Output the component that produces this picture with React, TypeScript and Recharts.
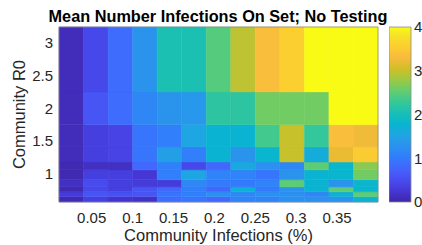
import React from 'react';
import { ScatterChart, Scatter, XAxis, YAxis, ReferenceArea, Label, BarChart, Bar } from 'recharts';

// cell edges (community infections %, community R0)
const INFECTION_EDGES = [0.01, 0.04, 0.07, 0.1, 0.13, 0.16, 0.19, 0.22, 0.25, 0.28, 0.31, 0.34, 0.37, 0.4];
const R0_EDGES = [0.57, 0.65, 0.725, 0.8, 0.91, 1.06, 1.18, 1.41, 1.75, 2.25, 3.24];

// mean number of infections on set, bottom row (lowest R0) first
const MEAN_INFECTIONS = [
  [0.05, 0.35, 0.2, 0.15, 0.85, 0.95, 0.8, 1.1, 1.1, 1.25, 1.25, 1.3, 1.75],
  [0.3, 0.6, 0.55, 0.6, 0.95, 1.05, 1.25, 1.15, 1.25, 1.25, 1.15, 1.7, 2.5],
  [0.05, 0.45, 0.35, 0.6, 0.8, 1.05, 0.8, 1.7, 1.0, 1.3, 1.75, 2.5, 1.8],
  [0.15, 0.5, 0.35, 0.3, 0.3, 1.15, 1.0, 1.0, 1.1, 2.5, 1.75, 1.3, 1.8],
  [0.05, 0.35, 0.35, 0.25, 1.05, 1.55, 1.1, 1.1, 0.95, 1.3, 1.75, 1.8, 2.6],
  [0.05, 0.15, 0.15, 0.8, 1.05, 0.45, 0.8, 1.6, 1.25, 1.15, 2.5, 1.8, 2.7],
  [0.1, 0.35, 0.4, 0.95, 1.45, 1.05, 1.75, 1.3, 1.8, 3.0, 1.65, 3.2, 3.5],
  [0.1, 0.35, 0.4, 0.95, 1.05, 1.55, 1.75, 1.75, 2.35, 3.0, 2.25, 3.35, 3.25],
  [0.1, 0.6, 0.85, 1.15, 1.3, 1.35, 2.2, 2.2, 2.6, 2.6, 2.6, 4, 4],
  [0.1, 0.45, 0.85, 1.3, 2.05, 2.05, 2.45, 2.95, 3.35, 3.55, 4, 4, 4],
];

const X_TICKS = [0.05, 0.1, 0.15, 0.2, 0.25, 0.3, 0.35];
const Y_TICKS = [1, 1.5, 2, 2.5, 3];
const CBAR_TICKS = [0, 1, 2, 3, 4];
const CBAR_MAX = 4;

// parula colormap stops
const PARULA = [
  [0.2422, 0.1504, 0.6603],
  [0.2706, 0.2147, 0.8364],
  [0.2813, 0.3006, 0.9414],
  [0.2699, 0.3892, 0.9906],
  [0.1963, 0.4847, 0.9892],
  [0.1687, 0.5703, 0.9359],
  [0.1248, 0.6459, 0.8883],
  [0.0297, 0.7082, 0.8163],
  [0.0964, 0.75, 0.712],
  [0.2161, 0.7843, 0.5923],
  [0.3909, 0.8029, 0.4354],
  [0.6174, 0.7876, 0.2612],
  [0.8203, 0.7498, 0.1535],
  [0.9728, 0.7298, 0.2394],
  [0.9892, 0.8136, 0.1885],
  [0.961, 0.889, 0.1537],
  [0.9769, 0.9839, 0.0805],
];
const PARULA_POS = [0, 4, 8, 12, 16, 20, 24, 28, 32, 36, 40, 44, 48, 52, 56, 60, 63].map((i) => i / 63);

const toHex = (c: number[]) =>
  '#' + c.map((v) => Math.round(Math.max(0, Math.min(1, v)) * 255).toString(16).padStart(2, '0')).join('');

const parula = (t: number) => {
  const tt = Math.max(0, Math.min(1, t));
  for (let i = 1; i < PARULA_POS.length; i++) {
    if (tt <= PARULA_POS[i]) {
      const f = (tt - PARULA_POS[i - 1]) / (PARULA_POS[i] - PARULA_POS[i - 1]);
      const a = PARULA[i - 1];
      const b = PARULA[i];
      return toHex(a.map((v, k) => v + (b[k] - v) * f));
    }
  }
  return toHex(PARULA[PARULA.length - 1]);
};

const cells = MEAN_INFECTIONS.flatMap((row, r) =>
  row.map((value, c) => ({
    x1: INFECTION_EDGES[c],
    x2: INFECTION_EDGES[c + 1],
    y1: R0_EDGES[r],
    y2: R0_EDGES[r + 1],
    x: (INFECTION_EDGES[c] + INFECTION_EDGES[c + 1]) / 2,
    y: (R0_EDGES[r] + R0_EDGES[r + 1]) / 2,
    value,
  }))
);

const FONT = '"Liberation Sans", Arial, Helvetica, sans-serif';
const TEXT = '#262626';

export default function App() {
  const xMin = INFECTION_EDGES[0];
  const xMax = INFECTION_EDGES[INFECTION_EDGES.length - 1];
  const yMin = R0_EDGES[0];
  const yMax = R0_EDGES[R0_EDGES.length - 1];

  return (
    <div style={{ position: 'absolute', left: 0, top: 0, width: 422, height: 245, overflow: 'hidden', background: '#fff', fontFamily: FONT }}>
      <div
        style={{
          position: 'absolute',
          left: 18,
          width: 400,
          top: 8,
          textAlign: 'center',
          fontSize: 16.3,
          lineHeight: '16px',
          fontWeight: 'bold',
          color: '#000',
          whiteSpace: 'nowrap',
        }}
      >
        Mean Number Infections On Set; No Testing
      </div>

      <div style={{ position: 'absolute', left: 0, top: 0 }}>
        <ScatterChart width={422} height={245} margin={{ top: 27, right: 44, left: 0, bottom: 0 }}>
          <XAxis
            type="number"
            dataKey="x"
            domain={[xMin, xMax]}
            ticks={X_TICKS}
            allowDataOverflow
            height={43}
            axisLine={false}
            tickLine={false}
            tickSize={0}
            tickMargin={10}
            tick={{ fill: TEXT, fontSize: 15 }}
          >
            <Label value="Community Infections (%)" position="insideBottom" offset={4} fill={TEXT} fontSize={16.5} />
          </XAxis>
          <YAxis
            type="number"
            dataKey="y"
            domain={[yMin, yMax]}
            ticks={Y_TICKS}
            allowDataOverflow
            width={59}
            axisLine={false}
            tickLine={false}
            tickSize={0}
            tickMargin={6}
            tick={{ fill: TEXT, fontSize: 15 }}
          >
            <Label
              value="Community R0"
              angle={-90}
              position="insideLeft"
              offset={19}
              fill={TEXT}
              fontSize={16.5}
              style={{ textAnchor: 'middle' }}
            />
          </YAxis>
          {cells.map((cell, i) => (
            <ReferenceArea
              key={i}
              x1={cell.x1}
              x2={cell.x2}
              y1={cell.y1}
              y2={cell.y2}
              fill={parula(cell.value / CBAR_MAX)}
              fillOpacity={1}
              stroke={parula(cell.value / CBAR_MAX)}
              strokeWidth={0.5}
            />
          ))}
          <ReferenceArea x1={xMin} x2={xMax} y1={yMin} y2={yMax} fill="none" stroke="#8a8a8a" strokeWidth={0.8} />
          <Scatter data={cells} isAnimationActive={false} shape={() => <g />} />
        </ScatterChart>
      </div>

      <div style={{ position: 'absolute', left: 389, top: 0 }}>
        <BarChart
          width={60}
          height={245}
          data={[{ name: 'scale', top: CBAR_MAX }]}
          margin={{ top: 27, right: 0, left: 0, bottom: 43 }}
          barCategoryGap={0}
        >
          <defs>
            <linearGradient id="parulaGrad" x1="0" y1="1" x2="0" y2="0">
              {PARULA.map((c, i) => (
                <stop key={i} offset={`${PARULA_POS[i] * 100}%`} stopColor={toHex(c)} />
              ))}
            </linearGradient>
          </defs>
          <XAxis dataKey="name" hide />
          <YAxis
            orientation="right"
            type="number"
            domain={[0, CBAR_MAX]}
            ticks={CBAR_TICKS}
            width={38}
            axisLine={false}
            tickLine={false}
            tickSize={0}
            tickMargin={3}
            tick={{ fill: TEXT, fontSize: 15 }}
          />
          <Bar dataKey="top" fill="url(#parulaGrad)" stroke="#8a8a8a" strokeWidth={0.8} isAnimationActive={false} />
        </BarChart>
      </div>
    </div>
  );
}
